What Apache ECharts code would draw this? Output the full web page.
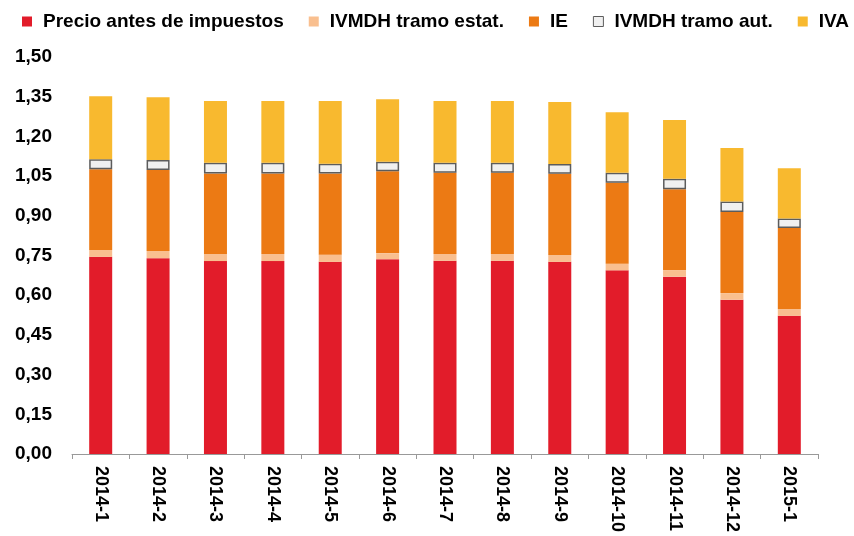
<!DOCTYPE html>
<html>
<head>
<meta charset="utf-8">
<script src="https://cdn.jsdelivr.net/npm/echarts@6/dist/echarts.min.js"></script>
<style>html,body{margin:0;padding:0;background:#fff}#c{width:854px;height:536px}</style>
</head>
<body>
<div id="c"></div>
<script>
var categories = ['2014-1','2014-2','2014-3','2014-4','2014-5','2014-6','2014-7','2014-8','2014-9','2014-10','2014-11','2014-12','2015-1'];
var precio = [0.745,0.740,0.729,0.729,0.726,0.736,0.730,0.730,0.726,0.694,0.670,0.583,0.522];
var ivmdhEstat = [0.026,0.027,0.027,0.027,0.027,0.023,0.026,0.026,0.026,0.025,0.025,0.025,0.026];
var ie = [0.305,0.306,0.304,0.304,0.307,0.309,0.307,0.307,0.307,0.306,0.305,0.306,0.306];
var ivmdhAut = [0.038,0.038,0.040,0.040,0.037,0.036,0.037,0.037,0.037,0.038,0.040,0.040,0.036];
var iva = [0.238,0.237,0.234,0.234,0.237,0.236,0.234,0.234,0.234,0.228,0.222,0.202,0.190];
var yTicks = ['0,00','0,15','0,30','0,45','0,60','0,75','0,90','1,05','1,20','1,35','1,50'];

var names = ['Precio antes de impuestos','IVMDH tramo estat.','IE','IVMDH tramo aut.','IVA'];
var colors = ['#E21C2A','#F9BF8F','#EC7A14','#F0F0F0','#F8B92F'];
var datas = [precio, ivmdhEstat, ie, ivmdhAut, iva];

var chart = echarts.init(document.getElementById('c'));
var series = names.map(function(n, i){
  var s = {
    name: n, type: 'bar', stack: 'total', barWidth: 23,
    data: datas[i],
    itemStyle: {color: colors[i]}
  };
  if (i === 3) { s.itemStyle.borderColor = '#5c5c5c'; s.itemStyle.borderWidth = 1.5; }
  return s;
});
chart.setOption({
  animation: false,
  textStyle: {fontFamily: 'Liberation Sans, Arial, sans-serif'},
  legend: {
    left: 17, top: 7, width: 860, itemWidth: 10, itemHeight: 10, itemGap: 25,
    data: names.map(function(n, i){
      var d = {name: n, icon: 'rect'};
      if (i === 3) d.itemStyle = {borderColor: '#5c5c5c', borderWidth: 1};
      return d;
    }),
    textStyle: {fontSize: 19, fontWeight: 'bold', color: '#000', padding: [0,0,0,6]}
  },
  grid: {left: 72, right: 36, top: 57, bottom: 82},
  xAxis: {
    type: 'category', data: categories,
    axisLine: {lineStyle: {color: '#999', width: 1}},
    axisTick: {show: true, length: 5, lineStyle: {color: '#999'}},
    axisLabel: {rotate: -90, fontSize: 18, fontWeight: 'bold', color: '#000', margin: 12}
  },
  yAxis: {
    type: 'value', min: 0, max: 1.5, interval: 0.15,
    axisLine: {show: false}, axisTick: {show: false}, splitLine: {show: false},
    axisLabel: {
      fontSize: 19, fontWeight: 'bold', color: '#000', margin: 20,
      formatter: function(v){ return yTicks[Math.round(v / 0.15)]; }
    }
  },
  series: series
});
</script>
</body>
</html>
